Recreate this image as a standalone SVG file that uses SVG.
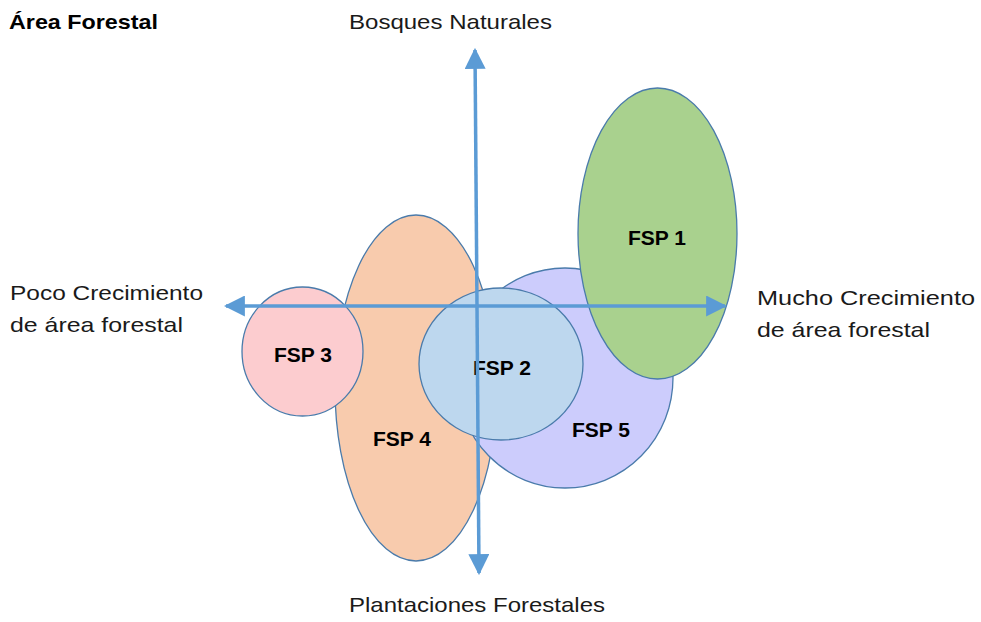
<svg xmlns="http://www.w3.org/2000/svg" width="981" height="622" viewBox="0 0 981 622">
<style>
.shape{stroke:#4a7bab;stroke-width:1.3}
.lbl{font-family:"Liberation Sans",Arial,sans-serif;font-weight:bold;font-size:21px;fill:#000;text-anchor:middle}
.ax{font-family:"Liberation Sans",Arial,sans-serif;font-size:21px;fill:#1a1a1a}
.arrow{stroke:#5b9bd5;stroke-width:3.5;fill:none}
</style>
<defs>
<marker id="ah" viewBox="0 0 10 10" refX="9" refY="5" markerWidth="6" markerHeight="6" markerUnits="strokeWidth" orient="auto">
<path d="M0,0 L10,5 L0,10 z" fill="#5b9bd5"/>
</marker>
</defs>
<rect width="981" height="622" fill="#fff"/>
<text x="9" y="29" font-family="Liberation Sans,Arial,sans-serif" font-weight="bold" font-size="21" fill="#000" textLength="149" lengthAdjust="spacingAndGlyphs">Área Forestal</text>
<text class="ax" x="349" y="29" textLength="203" lengthAdjust="spacingAndGlyphs">Bosques Naturales</text>
<text class="ax" x="10" y="300" textLength="193" lengthAdjust="spacingAndGlyphs">Poco Crecimiento</text>
<text class="ax" x="10" y="332" textLength="173" lengthAdjust="spacingAndGlyphs">de área forestal</text>
<text class="ax" x="757" y="305" textLength="218" lengthAdjust="spacingAndGlyphs">Mucho Crecimiento</text>
<text class="ax" x="757" y="337" textLength="173" lengthAdjust="spacingAndGlyphs">de área forestal</text>
<text class="ax" x="349" y="612" textLength="256" lengthAdjust="spacingAndGlyphs">Plantaciones Forestales</text>
<g id="fsp4"><ellipse class="shape" cx="416" cy="388" rx="81" ry="173" fill="#f8cbad"/><text class="lbl" x="402" y="446">FSP 4</text></g>
<g id="fsp3"><ellipse class="shape" cx="302.5" cy="351.5" rx="60.5" ry="64.5" fill="#fccccf"/><text class="lbl" x="303" y="362">FSP 3</text></g>
<g id="fsp5"><ellipse class="shape" cx="565" cy="378" rx="108" ry="110" fill="#ccccfc"/><text class="lbl" x="601" y="437">FSP 5</text></g>
<g id="fsp1"><ellipse class="shape" cx="657.5" cy="233.5" rx="79.5" ry="145.5" fill="#a9d18e"/><text class="lbl" x="657" y="245">FSP 1</text></g>
<g id="fsp2"><ellipse class="shape" cx="501" cy="364" rx="82" ry="76" fill="#bdd7ee"/><text class="lbl" x="502" y="375">FSP 2</text></g>
<g id="connectors">
<line class="arrow" x1="478" y1="306" x2="226" y2="306" marker-end="url(#ah)"/>
<line class="arrow" x1="478" y1="306" x2="725" y2="306" marker-end="url(#ah)"/>
<line class="arrow" x1="477" y1="306" x2="475" y2="50" marker-end="url(#ah)"/>
<line class="arrow" x1="477" y1="306" x2="479" y2="573" marker-end="url(#ah)"/>
</g>
</svg>
